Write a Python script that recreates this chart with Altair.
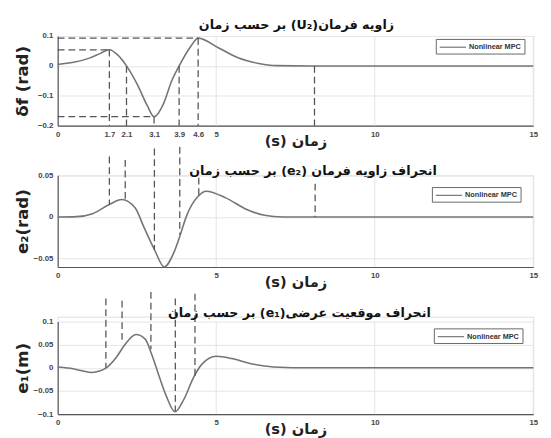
import altair as alt
import pandas as pd

# ---------------- data ----------------
# Panel 1: steering angle delta_f (rad)
t1 = [0, 0.5, 1.0, 1.35, 1.63, 1.9, 2.17, 2.53, 2.83, 3.04, 3.34, 3.6, 3.83, 4.2, 4.43, 5.08, 5.69, 6.3, 6.9, 8, 10, 15]
v1 = [0.005, 0.012, 0.026, 0.042, 0.054, 0.036, 0.0, -0.066, -0.134, -0.170, -0.126, -0.049, 0.0, 0.066, 0.093, 0.060, 0.027, 0.009, 0.001, 0, 0, 0]

# Panel 2: e2 (rad)
t2 = [0, 0.6, 1.1, 1.63, 2.02, 2.44, 2.74, 3.05, 3.36, 3.66, 3.87, 4.07, 4.43, 4.68, 5.3, 5.91, 6.52, 7.1, 8, 10, 15]
v2 = [0, 0.0005, 0.004, 0.015, 0.021, 0.011, -0.014, -0.039, -0.060, -0.043, -0.021, 0.002, 0.025, 0.031, 0.023, 0.010, 0.002, 0, 0, 0, 0]

# Panel 3: e1 (m)
t3 = [0, 0.4, 0.8, 1.07, 1.32, 1.53, 1.84, 2.14, 2.47, 2.76, 2.96, 3.17, 3.42, 3.7, 3.98, 4.29, 4.55, 5.0, 5.5, 6.1, 6.8, 8, 10, 15]
v3 = [0.002, -0.001, -0.007, -0.01, -0.007, 0.0, 0.022, 0.052, 0.072, 0.062, 0.03, -0.012, -0.06, -0.095, -0.068, -0.02, 0.008, 0.025, 0.02, 0.009, 0.002, 0, 0, 0]

# annotation dashed lines
p1_vx = [1.63, 2.17, 3.04, 3.83, 4.43, 8.1]
p1_vtop = [0.054, 0.0, -0.17, 0.0, 0.093, 0.0]
p1_hy = [0.093, 0.054, -0.17]
p1_hx = [4.43, 1.63, 3.04]

p2_vx = [1.63, 2.13, 3.05, 3.85, 4.45, 8.12]
p2_vtop = [0.0726, 0.0686, 0.0822, 0.0842, 0.0473, 0.04]
p2_vbot = [0.015, 0.021, -0.04, -0.021, 0.026, 0.0]

p3_vx = [1.52, 2.03, 2.94, 3.71, 4.33]
p3_vtop = [0.15, 0.145, 0.164, 0.15, 0.16]
p3_vbot = [0.0, 0.055, 0.04, -0.093, -0.018]

# axis ticks
p1_xtick_pos = [0, 1.63, 2.17, 3.04, 3.83, 4.43, 5, 10, 15]
p1_xtick_txt = ["0", "1.7", "2.1", "3.1", "3.9", "4.6", "5", "10", "15"]
x_ticks = [0, 5, 10, 15]
grid_x = [5, 10, 15]
p1_yticks = [-0.2, -0.1, 0, 0.1]
p2_yticks = [-0.05, 0, 0.05]
p3_yticks = [-0.1, -0.05, 0, 0.05, 0.1]

series_name = "Nonlinear MPC"
titles = [
    "\u202bزاویه فرمان(U₂) بر حسب زمان\u202c",
    "\u202bانحراف زاویه فرمان (e₂) بر حسب زمان\u202c",
    "\u202bانحراف موقعیت عرضی(e₁) بر حسب زمان\u202c",
]
xtitle = "\u202bزمان (s)\u202c"
ytitles = ["δf (rad)", "e₂(rad)", "e₁(m)"]

W = 488
FA = "DejaVu Sans"
LAB = "Liberation Sans"


def xaxis(values, label_expr=None):
    kw = dict(values=values, grid=False, ticks=False, title=xtitle,
              titleFont=FA, titleFontSize=15, titleFontWeight="bold",
              titleColor="#222", titleBaseline="middle", titleY=15,
              labelFont=LAB, labelFontSize=8, labelFontWeight="bold",
              labelColor="#444", labelPadding=5, domainColor="#555",
              domainWidth=1.2, labelFlush=False, labelOverlap=False)
    if label_expr:
        kw["labelExpr"] = label_expr
    return alt.Axis(**kw)


def yaxis(values, title):
    return alt.Axis(values=values, tickCount=len(values), grid=True, gridColor="#e4e4e4",
                    ticks=False, format="~g", title=title, titleFont=FA, titleFontSize=17,
                    titleFontWeight="bold", titleColor="#222", titleBaseline="middle",
                    titleX=-36, labelFont=LAB, labelFontSize=8, labelOverlap=False,
                    labelFlush=False, labelFontWeight="bold", labelColor="#444",
                    labelPadding=5, domainColor="#555", domainWidth=1.2)


def panel(t, v, ydom, yticks, xax, ytitle, title, tdx, tdy, legx, legy, h, yrange,
          rules_v, rules_h=None):
    xs = alt.Scale(domain=[0, 15], nice=False)
    ys = alt.Scale(domain=ydom, nice=False, zero=False, range=yrange)
    yax = yaxis(yticks, ytitle)
    df = pd.DataFrame({"t": t, "v": v, "s": [series_name] * len(t)})
    line = alt.Chart(df).mark_line(interpolate="monotone", strokeWidth=1.6).encode(
        x=alt.X("t:Q", scale=xs, axis=xax),
        y=alt.Y("v:Q", scale=ys, axis=yax),
        color=alt.Color("s:N", scale=alt.Scale(range=["#747474"]),
                        legend=alt.Legend(title=None, orient="none", legendX=legx, legendY=legy,
                                          symbolType="M-1,0H5", symbolSize=81,
                                          symbolStrokeWidth=1.2, labelFont=LAB,
                                          labelFontSize=7.5, labelFontWeight="bold",
                                          labelColor="#333", strokeColor="#666",
                                          fillColor="white", padding=3, labelOffset=20,
                                          cornerRadius=0)),
    )
    gdf = pd.DataFrame({"g": grid_x, "ylo": [ydom[0]] * len(grid_x), "yhi": [ydom[1]] * len(grid_x)})
    grid = alt.Chart(gdf).mark_rule(color="#e4e4e4", strokeWidth=1).encode(
        x=alt.X("g:Q", scale=xs, axis=xax), y=alt.Y("yhi:Q", scale=ys, axis=yax), y2="ylo:Q")
    layers = [grid, line]
    vx, vtop, vbot = rules_v
    rv = pd.DataFrame({"x": vx, "y1": vtop, "y2": vbot})
    layers.append(alt.Chart(rv).mark_rule(color="#555", strokeDash=[7, 4], strokeWidth=1.3).encode(
        x=alt.X("x:Q", scale=xs, axis=xax), y=alt.Y("y1:Q", scale=ys, axis=yax), y2="y2:Q"))
    if rules_h is not None:
        hy, hx = rules_h
        rh = pd.DataFrame({"y": hy, "x1": [0] * len(hy), "x2": hx})
        layers.append(alt.Chart(rh).mark_rule(color="#555", strokeDash=[7, 4], strokeWidth=1.3).encode(
            y=alt.Y("y:Q", scale=ys, axis=yax), x=alt.X("x1:Q", scale=xs, axis=xax), x2="x2:Q"))
    return alt.layer(*layers).properties(
        width=W, height=h,
        title=alt.TitleParams(title, font=FA, fontSize=13, fontWeight="bold", color="#111",
                              dx=tdx, dy=tdy, offset=0, anchor="middle"))


expr = " : ".join(
    f"datum.value == {p} ? '{s}'" for p, s in zip(p1_xtick_pos, p1_xtick_txt)) + " : ''"

c1 = panel(t1, v1, [-0.2, 0.1], p1_yticks, xaxis(p1_xtick_pos, expr), ytitles[0], titles[0],
           1, 0, 388, 3, 92, [92, 0], (p1_vx, p1_vtop, [-0.2] * len(p1_vx)), (p1_hy, p1_hx))
c2 = panel(t2, v2, [-0.06, 0.05], p2_yticks, xaxis(x_ticks), ytitles[1], titles[1],
           18, 33, 384, 12, 94, [94, 0], (p2_vx, p2_vtop, p2_vbot))
c3 = panel(t3, v3, [-0.1, 0.1], p3_yticks, xaxis(x_ticks), ytitles[2], titles[2],
           4, 29, 386, 12, 100, [100, 5], (p3_vx, p3_vtop, p3_vbot))

chart = alt.vconcat(c1, c2, c3, spacing=51, bounds="flush").resolve_scale(
    x="independent", y="independent", color="independent").resolve_legend(
    color="independent").configure_view(stroke=None).configure(background="white")

chart.save("out.html", embed_options={"renderer": "svg", "actions": False})
